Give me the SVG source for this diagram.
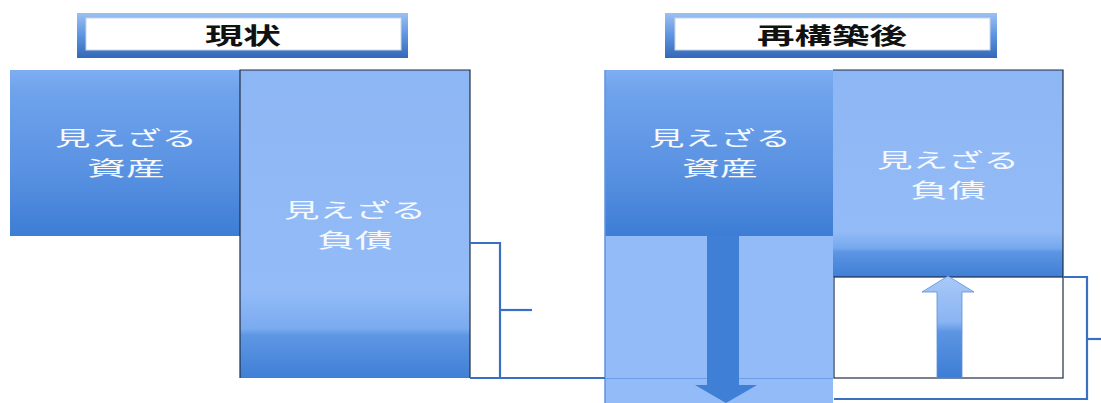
<svg xmlns="http://www.w3.org/2000/svg" width="1101" height="403" viewBox="0 0 1101 403">
  <defs>
    <linearGradient id="frameGrad" x1="0" y1="0" x2="0" y2="1">
      <stop offset="0" stop-color="#9cc0f2"/>
      <stop offset="0.5" stop-color="#5d94e0"/>
      <stop offset="1" stop-color="#3468b8"/>
    </linearGradient>
    <linearGradient id="assetGrad" x1="0" y1="0" x2="0" y2="1">
      <stop offset="0" stop-color="#7eaef2"/>
      <stop offset="0.12" stop-color="#6fa3ec"/>
      <stop offset="0.6" stop-color="#5a92e2"/>
      <stop offset="1" stop-color="#3d7dd5"/>
    </linearGradient>
    <linearGradient id="liabGradA" x1="0" y1="0" x2="0" y2="1">
      <stop offset="0" stop-color="#8db6f4"/>
      <stop offset="0.72" stop-color="#93bbf7"/>
      <stop offset="0.84" stop-color="#7aaaf0"/>
      <stop offset="0.86" stop-color="#5f97e4"/>
      <stop offset="1" stop-color="#3f7fd6"/>
    </linearGradient>
    <linearGradient id="liabGradB" x1="0" y1="0" x2="0" y2="1">
      <stop offset="0" stop-color="#8db6f4"/>
      <stop offset="0.78" stop-color="#93bbf7"/>
      <stop offset="0.86" stop-color="#76a8ee"/>
      <stop offset="0.88" stop-color="#5c95e3"/>
      <stop offset="1" stop-color="#3f7fd6"/>
    </linearGradient>
    <linearGradient id="upGrad" x1="0" y1="0" x2="0" y2="1">
      <stop offset="0" stop-color="#a9c9f8"/>
      <stop offset="0.45" stop-color="#8ab4f2"/>
      <stop offset="0.55" stop-color="#5c95e2"/>
      <stop offset="1" stop-color="#3d7dd5"/>
    </linearGradient>
    <style>
      .title { font-family: "Noto Sans CJK JP", "Noto Sans", sans-serif; font-weight: bold; font-size: 23px; fill: #111; text-anchor: middle; }
      .lbl { font-family: "Noto Sans CJK JP", "Noto Sans", sans-serif; font-size: 20px; fill: #f6f9ff; text-anchor: middle; }
      .frame { fill: url(#frameGrad); }
      .inner { fill: #ffffff; stroke: #c9d6e6; stroke-width: 1; }
      .edge { fill: none; stroke: #1f2d44; stroke-width: 1.2; }
      .conn { fill: none; stroke: #3a70c2; stroke-width: 2.2; }
    </style>
  </defs>
  <rect x="0" y="0" width="1101" height="403" fill="#ffffff"/>

  <g id="title-current">
    <rect class="frame" x="77" y="13" width="331" height="45"/>
    <rect class="inner" x="86" y="18" width="315" height="32"/>
    <text class="title" x="243" y="44" textLength="76" lengthAdjust="spacingAndGlyphs">現状</text>
  </g>

  <g id="title-after">
    <rect class="frame" x="665" y="13" width="332" height="45"/>
    <rect class="inner" x="675" y="18" width="315" height="32"/>
    <text class="title" x="832" y="44" textLength="150" lengthAdjust="spacingAndGlyphs">再構築後</text>
  </g>

  <g id="asset-current">
    <rect x="10" y="70" width="230" height="166" fill="url(#assetGrad)"/>
    <text class="lbl" x="126" y="145.5" textLength="142" lengthAdjust="spacingAndGlyphs">見えざる</text>
    <text class="lbl" x="126" y="175.5" textLength="78" lengthAdjust="spacingAndGlyphs">資産</text>
  </g>

  <g id="liability-current">
    <rect x="240" y="70" width="230" height="308" fill="url(#liabGradA)"/>
    <path class="edge" d="M240,378 V70 H470 V378"/>
    <text class="lbl" x="355" y="218" textLength="142" lengthAdjust="spacingAndGlyphs">見えざる</text>
    <text class="lbl" x="355" y="248" textLength="76" lengthAdjust="spacingAndGlyphs">負債</text>
  </g>

  <g id="asset-after">
    <rect x="605" y="236" width="228" height="167" fill="#92bbf7"/>
    <rect x="605" y="70" width="228" height="166" fill="url(#assetGrad)"/>
    <line x1="605" y1="70" x2="605" y2="403" stroke="#5f93dc" stroke-width="1.5"/>
    <line x1="605" y1="378.5" x2="833" y2="378.5" stroke="#6b9ee6" stroke-width="1.2"/>
    <text class="lbl" x="720" y="146" textLength="142" lengthAdjust="spacingAndGlyphs">見えざる</text>
    <text class="lbl" x="720" y="176" textLength="76" lengthAdjust="spacingAndGlyphs">資産</text>
  </g>

  <g id="liability-after">
    <rect x="833" y="70" width="230" height="207" fill="url(#liabGradB)"/>
    <path class="edge" d="M833,70 H1063 V277"/>
    <text class="lbl" x="948" y="167.5" textLength="142" lengthAdjust="spacingAndGlyphs">見えざる</text>
    <text class="lbl" x="948" y="197.5" textLength="76" lengthAdjust="spacingAndGlyphs">負債</text>
  </g>

  <g id="reduced-liability">
    <rect x="834" y="277" width="229" height="101" fill="#ffffff" stroke="#1f2d44" stroke-width="1.2"/>
  </g>

  <g id="connectors">
    <path class="conn" d="M470,243 H500 V378 M470,378 H605"/>
    <path class="conn" d="M500,310 H532"/>
    <path class="conn" d="M1063,277 H1087 V399 H834"/>
    <path class="conn" d="M1087,339 H1101"/>
    <path id="arrow-down" d="M707,236 H739 V385 H757 L726,403 L695,385 H707 Z" fill="#3f7fd6"/>
    <path id="arrow-up" d="M937,378 V292 H922 L948,276 L974,292 H962 V378 Z" fill="url(#upGrad)" stroke="#5a8fd8" stroke-width="0.8"/>
  </g>
</svg>
